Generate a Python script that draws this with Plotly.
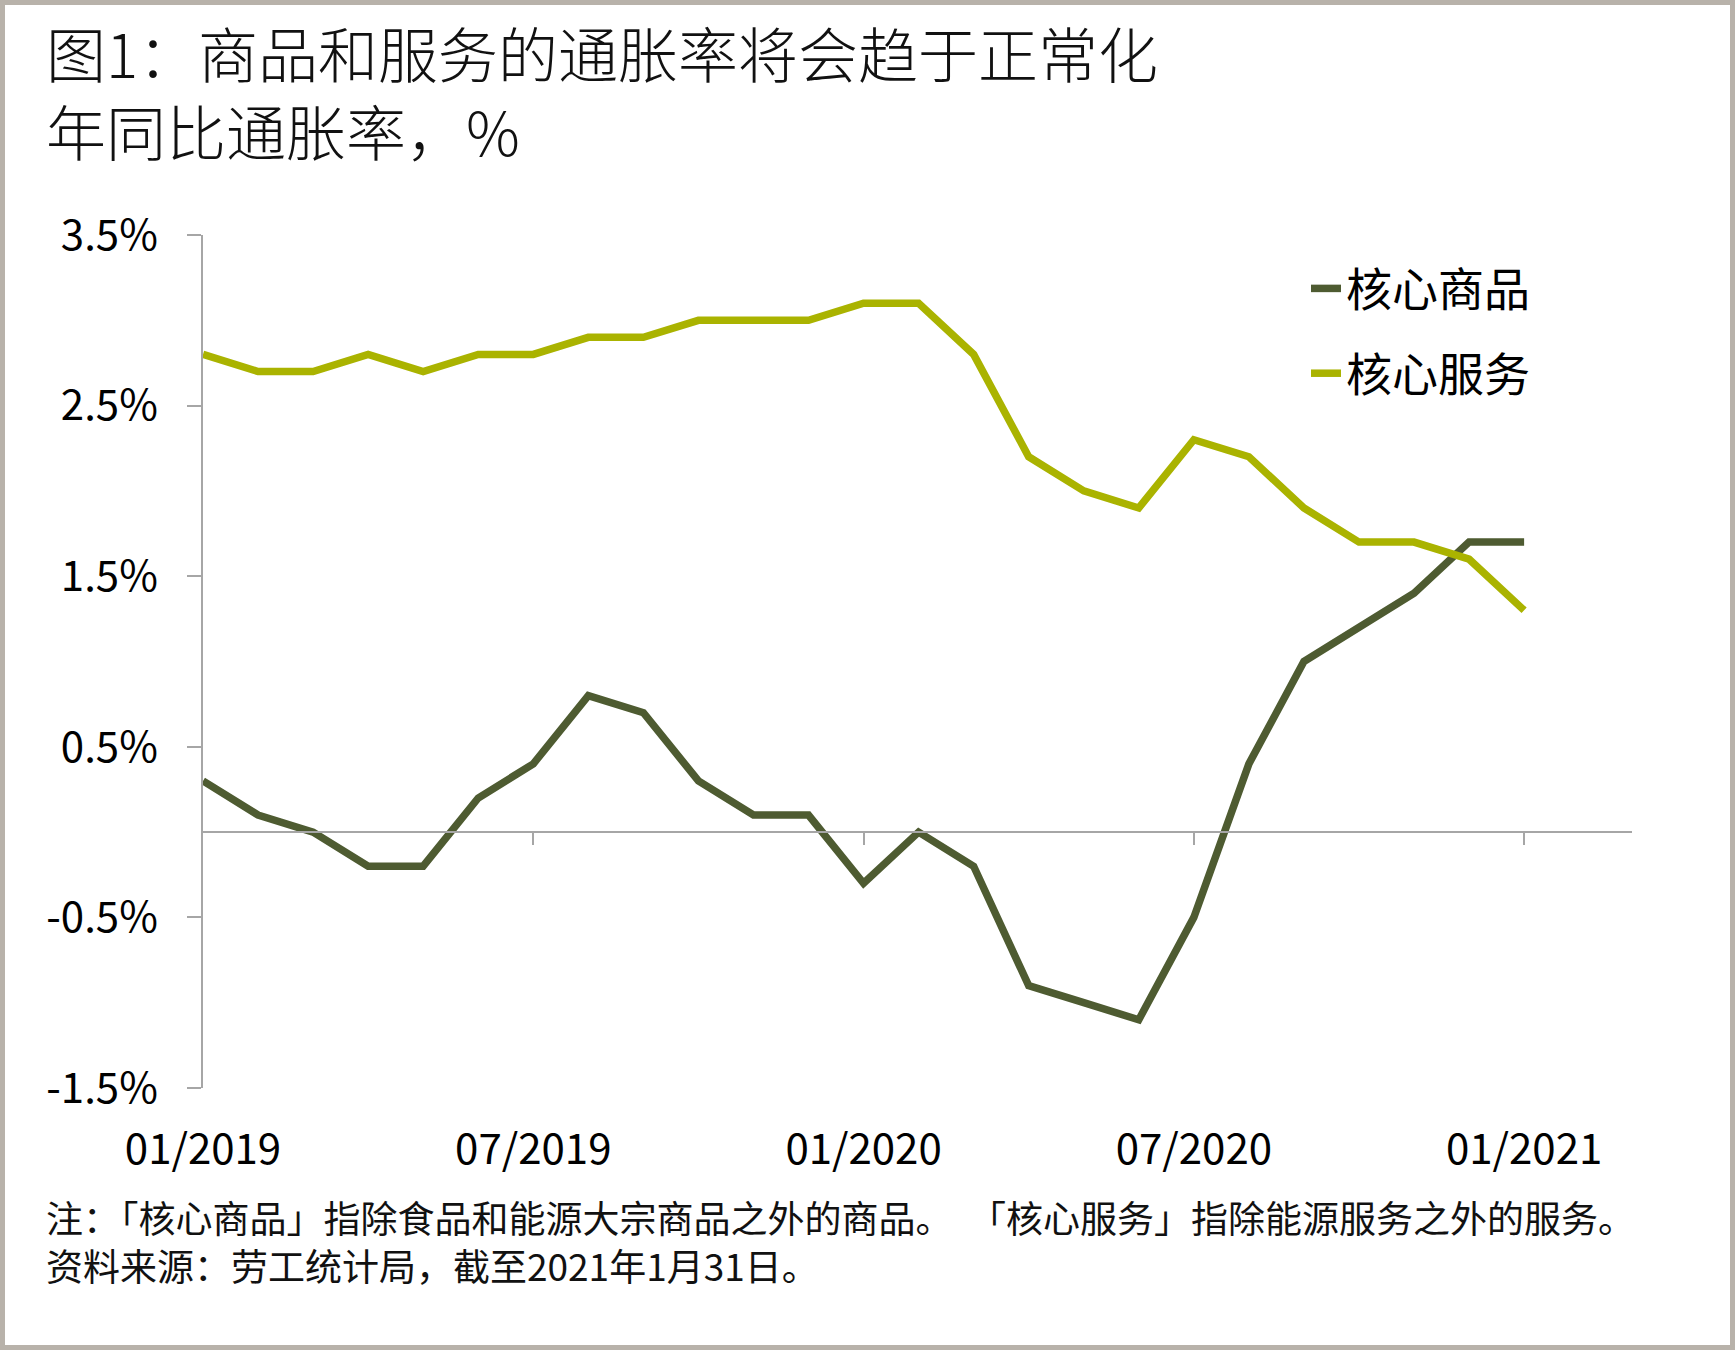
import plotly.graph_objects as go

# ---- data ----
months = ["01/2019", "02/2019", "03/2019", "04/2019", "05/2019", "06/2019",
          "07/2019", "08/2019", "09/2019", "10/2019", "11/2019", "12/2019",
          "01/2020", "02/2020", "03/2020", "04/2020", "05/2020", "06/2020",
          "07/2020", "08/2020", "09/2020", "10/2020", "11/2020", "12/2020",
          "01/2021"]
core_goods = [0.3, 0.1, 0.0, -0.2, -0.2, 0.2, 0.4, 0.8, 0.7, 0.3, 0.1, 0.1,
              -0.3, 0.0, -0.2, -0.9, -1.0, -1.1, -0.5, 0.4, 1.0, 1.2, 1.4, 1.7,
              1.7]
core_services = [2.8, 2.7, 2.7, 2.8, 2.7, 2.8, 2.8, 2.9, 2.9, 3.0, 3.0, 3.0,
                 3.1, 3.1, 2.8, 2.2, 2.0, 1.9, 2.3, 2.2, 1.9, 1.7, 1.7, 1.6,
                 1.3]
series_names = ["核心商品", "核心服务"]
x_tick_labels = ["01/2019", "07/2019", "01/2020", "07/2020", "01/2021"]
y_tick_values = [-1.5, -0.5, 0.5, 1.5, 2.5, 3.5]
title_lines = ["图1：商品和服务的通胀率将会趋于正常化", "年同比通胀率，%"]
note_lines = ["注：「核心商品」指除食品和能源大宗商品之外的商品。  「核心服务」指除能源服务之外的服务。",
              "资料来源：劳工统计局，截至2021年1月31日。"]

# ---- styles / layout geometry ----
W, H = 1735, 1350
ML, MR, MT, MB = 203, 103, 235, 262
PW, PH = W - ML - MR, H - MT - MB
C_GOODS = "#4E5B31"
C_SERV = "#AAB300"
AXIS_C = "#A6A6A6"
BORDER_C = "#B8B2AA"
FONT = "Noto Sans CJK SC"

def px_x(p):
    return (p - ML) / PW

def px_y(p):
    return (H - MB - p) / PH

xpos = list(range(len(months)))
tickpos = [months.index(m) for m in x_tick_labels]

fig = go.Figure()
fig.add_trace(go.Scatter(x=xpos, y=core_goods, name=series_names[0], mode="lines",
                         line=dict(color=C_GOODS, width=7.5), legendgroup="g1"))
fig.add_trace(go.Scatter(x=xpos, y=core_services, name=series_names[1], mode="lines",
                         line=dict(color=C_SERV, width=7.5), legendgroup="g2"))
# invisible helper trace so the zero-line axis is rendered
fig.add_trace(go.Scatter(x=xpos, y=core_goods, xaxis="x2", mode="lines",
                         line=dict(width=0, color="rgba(0,0,0,0)"),
                         showlegend=False, hoverinfo="skip"))

fig.update_layout(
    width=W, height=H,
    margin=dict(l=ML, r=MR, t=MT, b=MB),
    paper_bgcolor="white", plot_bgcolor="white",
    font=dict(family=FONT, color="black"),
    xaxis=dict(range=[0, 25.96], showline=False, showgrid=False, zeroline=False,
               tickvals=tickpos, ticktext=x_tick_labels, ticks="",
               tickfont=dict(size=42, family=FONT, color="black"),
               ticklabelstandoff=33),
    xaxis2=dict(range=[0, 25.96], overlaying="x", matches="x", anchor="free",
                position=(0 - y_tick_values[0]) / (y_tick_values[-1] - y_tick_values[0]),
                showline=True, linecolor=AXIS_C, linewidth=1.5,
                showgrid=False, zeroline=False, showticklabels=False,
                tickvals=tickpos[1:], ticks="outside", ticklen=12,
                tickcolor=AXIS_C, tickwidth=1.5),
    yaxis=dict(range=[y_tick_values[0], y_tick_values[-1]], showline=True,
               linecolor=AXIS_C, linewidth=1.5, showgrid=False, zeroline=False,
               tickvals=y_tick_values, ticktext=[f"{v:.1f}%" for v in y_tick_values],
               ticks="outside", ticklen=14, tickcolor=AXIS_C, tickwidth=1.5,
               tickfont=dict(size=42, family=FONT, color="black"),
               ticklabelstandoff=21),
    legend=dict(x=px_x(1306), y=px_y(252), xanchor="left", yanchor="top",
                font=dict(size=46, family=FONT, color="black"),
                bgcolor="rgba(0,0,0,0)", traceorder="grouped", tracegroupgap=22,
                itemwidth=30),
    showlegend=True,
)

# title (two lines in one text block)
fig.add_annotation(text="<br>".join(title_lines), xref="paper", yref="paper",
                   x=px_x(44), y=px_y(91), xanchor="left", yanchor="middle",
                   align="left", showarrow=False,
                   font=dict(size=60, family=FONT, color="#111111", weight=300))

# notes / source (two lines in one text block)
fig.add_annotation(text="<br>".join(note_lines), xref="paper", yref="paper",
                   x=px_x(44), y=px_y(1241), xanchor="left", yanchor="middle",
                   align="left", showarrow=False,
                   font=dict(size=37, family=FONT, color="#111111"))

# outer border of the picture
fig.add_shape(type="rect", xref="paper", yref="paper",
              x0=px_x(2.5), x1=px_x(W - 2.5), y0=px_y(H - 2.5), y1=px_y(2.5),
              line=dict(color=BORDER_C, width=5), fillcolor="rgba(0,0,0,0)",
              layer="above")

fig.write_html("out.html", config={"displayModeBar": False},
               post_script="document.body.style.margin='0';document.body.style.overflow='hidden';")
